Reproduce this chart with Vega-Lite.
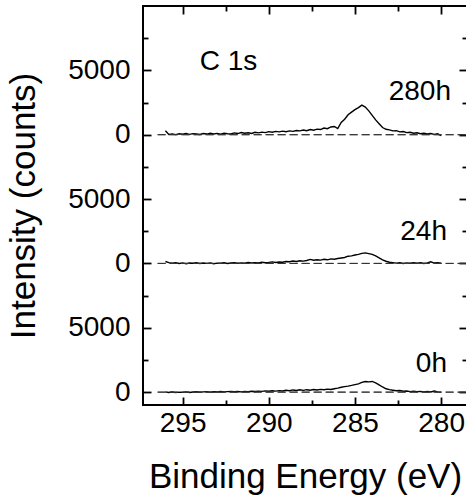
{
"$schema": "https://vega.github.io/schema/vega-lite/v6.json",
"width": 324, "height": 399,
"autosize": {"type": "none"},
"padding": {"left": 143, "top": 6, "right": 0, "bottom": 94},
"background": "white",
"config": {
 "view": {"stroke": "black", "strokeWidth": 2},
 "font": "Liberation Sans",
 "axis": {"domain": false, "grid": false, "tickColor": "black", "tickWidth": 1.8, "labelColor": "black", "titleColor": "black", "labelFont": "Liberation Sans", "titleFont": "Liberation Sans", "titleFontWeight": "normal", "labelFontSize": 28, "titleFontSize": 35}
},
"datasets": {
 "spec": [
{"s":"280h","e":296.0,"c":300},{"s":"280h","e":295.8,"c":20},{"s":"280h","e":295.6,"c":60},{"s":"280h","e":295.4,"c":10},{"s":"280h","e":295.2,"c":70},{"s":"280h","e":295.0,"c":40},{"s":"280h","e":294.8,"c":90},{"s":"280h","e":294.6,"c":30},{"s":"280h","e":294.4,"c":80},{"s":"280h","e":294.2,"c":60},{"s":"280h","e":294.0,"c":20},{"s":"280h","e":293.8,"c":90},{"s":"280h","e":293.6,"c":50},{"s":"280h","e":293.4,"c":110},{"s":"280h","e":293.2,"c":60},{"s":"280h","e":293.0,"c":100},{"s":"280h","e":292.8,"c":40},{"s":"280h","e":292.6,"c":120},{"s":"280h","e":292.4,"c":80},{"s":"280h","e":292.2,"c":60},{"s":"280h","e":292.0,"c":140},{"s":"280h","e":291.8,"c":90},{"s":"280h","e":291.6,"c":170},{"s":"280h","e":291.4,"c":110},{"s":"280h","e":291.2,"c":150},{"s":"280h","e":291.0,"c":100},{"s":"280h","e":290.8,"c":190},{"s":"280h","e":290.6,"c":140},{"s":"280h","e":290.4,"c":200},{"s":"280h","e":290.2,"c":160},{"s":"280h","e":290.0,"c":240},{"s":"280h","e":289.8,"c":190},{"s":"280h","e":289.6,"c":260},{"s":"280h","e":289.4,"c":220},{"s":"280h","e":289.2,"c":280},{"s":"280h","e":289.0,"c":230},{"s":"280h","e":288.8,"c":300},{"s":"280h","e":288.6,"c":260},{"s":"280h","e":288.4,"c":330},{"s":"280h","e":288.2,"c":300},{"s":"280h","e":288.0,"c":360},{"s":"280h","e":287.8,"c":310},{"s":"280h","e":287.6,"c":400},{"s":"280h","e":287.4,"c":350},{"s":"280h","e":287.2,"c":430},{"s":"280h","e":287.0,"c":400},{"s":"280h","e":286.8,"c":520},{"s":"280h","e":286.6,"c":470},{"s":"280h","e":286.4,"c":600},{"s":"280h","e":286.2,"c":640},{"s":"280h","e":286.0,"c":480},{"s":"280h","e":285.8,"c":950},{"s":"280h","e":285.6,"c":1200},{"s":"280h","e":285.4,"c":1550},{"s":"280h","e":285.2,"c":1750},{"s":"280h","e":285.0,"c":1950},{"s":"280h","e":284.8,"c":2100},{"s":"280h","e":284.6,"c":2300},{"s":"280h","e":284.4,"c":2150},{"s":"280h","e":284.2,"c":1850},{"s":"280h","e":284.0,"c":1500},{"s":"280h","e":283.8,"c":1150},{"s":"280h","e":283.6,"c":850},{"s":"280h","e":283.4,"c":560},{"s":"280h","e":283.2,"c":420},{"s":"280h","e":283.0,"c":380},{"s":"280h","e":282.8,"c":300},{"s":"280h","e":282.6,"c":320},{"s":"280h","e":282.4,"c":220},{"s":"280h","e":282.2,"c":250},{"s":"280h","e":282.0,"c":160},{"s":"280h","e":281.8,"c":190},{"s":"280h","e":281.6,"c":120},{"s":"280h","e":281.4,"c":150},{"s":"280h","e":281.2,"c":80},{"s":"280h","e":281.0,"c":110},{"s":"280h","e":280.8,"c":60},{"s":"280h","e":280.6,"c":90},{"s":"280h","e":280.4,"c":30},{"s":"280h","e":280.2,"c":70},{"s":"280h","e":280.0,"c":-80},
{"s":"24h","e":296.0,"c":150},{"s":"24h","e":295.8,"c":60},{"s":"24h","e":295.6,"c":20},{"s":"24h","e":295.4,"c":50},{"s":"24h","e":295.2,"c":0},{"s":"24h","e":295.0,"c":40},{"s":"24h","e":294.8,"c":-20},{"s":"24h","e":294.6,"c":30},{"s":"24h","e":294.4,"c":10},{"s":"24h","e":294.2,"c":50},{"s":"24h","e":294.0,"c":-10},{"s":"24h","e":293.8,"c":30},{"s":"24h","e":293.6,"c":0},{"s":"24h","e":293.4,"c":40},{"s":"24h","e":293.2,"c":-20},{"s":"24h","e":293.0,"c":20},{"s":"24h","e":292.8,"c":10},{"s":"24h","e":292.6,"c":50},{"s":"24h","e":292.4,"c":0},{"s":"24h","e":292.2,"c":30},{"s":"24h","e":292.0,"c":60},{"s":"24h","e":291.8,"c":10},{"s":"24h","e":291.6,"c":40},{"s":"24h","e":291.4,"c":20},{"s":"24h","e":291.2,"c":70},{"s":"24h","e":291.0,"c":30},{"s":"24h","e":290.8,"c":60},{"s":"24h","e":290.6,"c":40},{"s":"24h","e":290.4,"c":90},{"s":"24h","e":290.2,"c":50},{"s":"24h","e":290.0,"c":80},{"s":"24h","e":289.8,"c":120},{"s":"24h","e":289.6,"c":70},{"s":"24h","e":289.4,"c":110},{"s":"24h","e":289.2,"c":90},{"s":"24h","e":289.0,"c":150},{"s":"24h","e":288.8,"c":130},{"s":"24h","e":288.6,"c":190},{"s":"24h","e":288.4,"c":150},{"s":"24h","e":288.2,"c":210},{"s":"24h","e":288.0,"c":180},{"s":"24h","e":287.8,"c":230},{"s":"24h","e":287.6,"c":310},{"s":"24h","e":287.4,"c":250},{"s":"24h","e":287.2,"c":290},{"s":"24h","e":287.0,"c":260},{"s":"24h","e":286.8,"c":320},{"s":"24h","e":286.6,"c":280},{"s":"24h","e":286.4,"c":350},{"s":"24h","e":286.2,"c":330},{"s":"24h","e":286.0,"c":380},{"s":"24h","e":285.8,"c":420},{"s":"24h","e":285.6,"c":460},{"s":"24h","e":285.4,"c":560},{"s":"24h","e":285.2,"c":590},{"s":"24h","e":285.0,"c":650},{"s":"24h","e":284.8,"c":700},{"s":"24h","e":284.6,"c":780},{"s":"24h","e":284.4,"c":820},{"s":"24h","e":284.2,"c":760},{"s":"24h","e":284.0,"c":700},{"s":"24h","e":283.8,"c":580},{"s":"24h","e":283.6,"c":430},{"s":"24h","e":283.4,"c":280},{"s":"24h","e":283.2,"c":170},{"s":"24h","e":283.0,"c":90},{"s":"24h","e":282.8,"c":60},{"s":"24h","e":282.6,"c":20},{"s":"24h","e":282.4,"c":50},{"s":"24h","e":282.2,"c":0},{"s":"24h","e":282.0,"c":40},{"s":"24h","e":281.8,"c":10},{"s":"24h","e":281.6,"c":60},{"s":"24h","e":281.4,"c":20},{"s":"24h","e":281.2,"c":50},{"s":"24h","e":281.0,"c":0},{"s":"24h","e":280.8,"c":40},{"s":"24h","e":280.6,"c":130},{"s":"24h","e":280.4,"c":30},{"s":"24h","e":280.2,"c":60},{"s":"24h","e":280.0,"c":10},
{"s":"0h","e":296.0,"c":20},{"s":"0h","e":295.8,"c":-30},{"s":"0h","e":295.6,"c":10},{"s":"0h","e":295.4,"c":-40},{"s":"0h","e":295.2,"c":0},{"s":"0h","e":295.0,"c":-20},{"s":"0h","e":294.8,"c":20},{"s":"0h","e":294.6,"c":-30},{"s":"0h","e":294.4,"c":10},{"s":"0h","e":294.2,"c":30},{"s":"0h","e":294.0,"c":-10},{"s":"0h","e":293.8,"c":20},{"s":"0h","e":293.6,"c":40},{"s":"0h","e":293.4,"c":0},{"s":"0h","e":293.2,"c":30},{"s":"0h","e":293.0,"c":10},{"s":"0h","e":292.8,"c":50},{"s":"0h","e":292.6,"c":20},{"s":"0h","e":292.4,"c":40},{"s":"0h","e":292.2,"c":60},{"s":"0h","e":292.0,"c":30},{"s":"0h","e":291.8,"c":50},{"s":"0h","e":291.6,"c":20},{"s":"0h","e":291.4,"c":60},{"s":"0h","e":291.2,"c":40},{"s":"0h","e":291.0,"c":70},{"s":"0h","e":290.8,"c":50},{"s":"0h","e":290.6,"c":80},{"s":"0h","e":290.4,"c":60},{"s":"0h","e":290.2,"c":100},{"s":"0h","e":290.0,"c":70},{"s":"0h","e":289.8,"c":110},{"s":"0h","e":289.6,"c":80},{"s":"0h","e":289.4,"c":120},{"s":"0h","e":289.2,"c":90},{"s":"0h","e":289.0,"c":140},{"s":"0h","e":288.8,"c":110},{"s":"0h","e":288.6,"c":170},{"s":"0h","e":288.4,"c":130},{"s":"0h","e":288.2,"c":180},{"s":"0h","e":288.0,"c":140},{"s":"0h","e":287.8,"c":190},{"s":"0h","e":287.6,"c":150},{"s":"0h","e":287.4,"c":200},{"s":"0h","e":287.2,"c":170},{"s":"0h","e":287.0,"c":210},{"s":"0h","e":286.8,"c":180},{"s":"0h","e":286.6,"c":230},{"s":"0h","e":286.4,"c":200},{"s":"0h","e":286.2,"c":260},{"s":"0h","e":286.0,"c":310},{"s":"0h","e":285.8,"c":380},{"s":"0h","e":285.6,"c":430},{"s":"0h","e":285.4,"c":470},{"s":"0h","e":285.2,"c":520},{"s":"0h","e":285.0,"c":580},{"s":"0h","e":284.8,"c":640},{"s":"0h","e":284.6,"c":760},{"s":"0h","e":284.4,"c":820},{"s":"0h","e":284.2,"c":800},{"s":"0h","e":284.0,"c":830},{"s":"0h","e":283.8,"c":720},{"s":"0h","e":283.6,"c":560},{"s":"0h","e":283.4,"c":400},{"s":"0h","e":283.2,"c":260},{"s":"0h","e":283.0,"c":190},{"s":"0h","e":282.8,"c":150},{"s":"0h","e":282.6,"c":110},{"s":"0h","e":282.4,"c":130},{"s":"0h","e":282.2,"c":70},{"s":"0h","e":282.0,"c":90},{"s":"0h","e":281.8,"c":40},{"s":"0h","e":281.6,"c":80},{"s":"0h","e":281.4,"c":30},{"s":"0h","e":281.2,"c":60},{"s":"0h","e":281.0,"c":20},{"s":"0h","e":280.8,"c":50},{"s":"0h","e":280.6,"c":10},{"s":"0h","e":280.4,"c":90},{"s":"0h","e":280.2,"c":20},{"s":"0h","e":280.0,"c":0}
 ],
 "base": [{"y":0,"a":296.45,"b":278.5},{"y":10000,"a":296.45,"b":278.5},{"y":20000,"a":296.45,"b":278.5}],
 "labels": [{"t":"C 1s","e":290.67,"v":25030},{"t":"280h","e":279.43,"v":22700},{"t":"24h","e":279.66,"v":11820},{"t":"0h","e":279.66,"v":1590}]
},
"layer": [
 {
  "data": {"name": "spec"},
  "transform": [{"calculate": "datum.c + (datum.s == '280h' ? 20000 : (datum.s == '24h' ? 10000 : 0))", "as": "yv"}],
  "mark": {"type": "line", "color": "black", "strokeWidth": 1.4},
  "encoding": {
   "x": {"field": "e", "type": "quantitative", "scale": {"domain": [278.5, 297.3], "reverse": true, "nice": false, "zero": false},
     "axis": {"orient": "bottom", "values": [295, 290, 285, 280], "tickSize": -8, "labelPadding": 12, "title": "Binding Energy (eV)", "titlePadding": 22}},
   "y": {"field": "yv", "type": "quantitative", "scale": {"domain": [-1000, 30000], "nice": false, "zero": false},
     "axis": {"orient": "left", "values": [0, 5000, 10000, 15000, 20000, 25000], "labelExpr": "datum.value % 10000 == 0 ? '0' : '5000'", "tickSize": -8, "labelPadding": 21, "title": "Intensity (counts)", "titlePadding": 26}},
   "detail": {"field": "s"}
  }
 },
 {
  "data": {"name": "base"},
  "mark": {"type": "rule", "color": "#333333", "strokeWidth": 1, "strokeDash": [8, 4]},
  "encoding": {
   "x": {"field": "a", "type": "quantitative", "axis": {"orient": "top", "values": [295, 290, 285, 280], "tickSize": -8, "labels": false, "title": null}},
   "x2": {"field": "b"},
   "y": {"field": "y", "type": "quantitative", "axis": {"orient": "right", "values": [0, 5000, 10000, 15000, 20000, 25000], "tickSize": -8, "labels": false, "title": null}}
  }
 },
 {
  "data": {"name": "base"},
  "mark": {"type": "rule", "color": "#333333", "strokeWidth": 1, "strokeDash": [8, 4]},
  "encoding": {
   "x": {"field": "a", "type": "quantitative", "axis": {"orient": "top", "values": [292.5, 287.5, 282.5], "tickSize": -5, "labels": false, "title": null}},
   "x2": {"field": "b"},
   "y": {"field": "y", "type": "quantitative", "axis": {"orient": "right", "values": [2500, 7500, 12500, 17500, 22500, 27500], "tickSize": -5, "labels": false, "title": null}}
  }
 },
 {
  "data": {"name": "labels"},
  "mark": {"type": "text", "align": "right", "baseline": "alphabetic", "fontSize": 28, "font": "Liberation Sans", "color": "black"},
  "encoding": {
   "x": {"field": "e", "type": "quantitative", "axis": {"orient": "bottom", "values": [292.5, 287.5, 282.5], "tickSize": -5, "labels": false, "title": null}},
   "y": {"field": "v", "type": "quantitative", "axis": {"orient": "left", "values": [2500, 7500, 12500, 17500, 22500, 27500], "tickSize": -5, "labels": false, "title": null}},
   "text": {"field": "t"}
  }
 }
],
"resolve": {"axis": {"x": "independent", "y": "independent"}}
}
